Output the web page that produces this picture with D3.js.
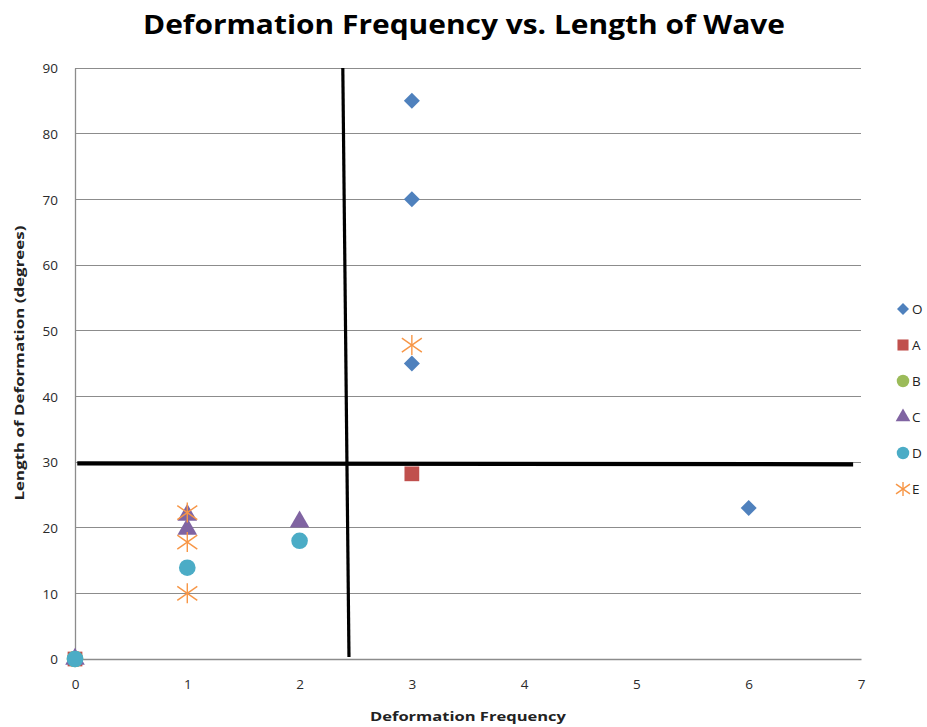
<!DOCTYPE html>
<html><head><meta charset="utf-8">
<script src="https://cdn.jsdelivr.net/npm/d3@7"></script>
<style>body{margin:0;background:#fff}svg{display:block}</style>
</head><body>
<script>
const xTicks = [0,1,2,3,4,5,6,7];
const yTicks = [0,10,20,30,40,50,60,70,80,90];
const seriesNames = ["O","A","B","C","D","E"];
const seriesColors = ["#4F81BD","#C0504D","#9BBB59","#8064A2","#4BACC6","#F79646"];
const seriesShapes = ["diamond","square","circle","triangle","circle","star"];
const O = [[0,0],[3,85],[3,70],[3,45],[6,23]];
const A = [[0,0],[3,28.2]];
const B = [[0,0]];
const C = [[0,0],[1,21.9],[1,19.8],[2,20.9]];
const D = [[0,0],[1,13.9],[2,18.0]];
const E = [[3,47.8],[1,22.3],[1,17.8],[1,10]];
const seriesData = [O,A,B,C,D,E];
const dividerV = [[2.385,90],[2.44,0.3]];
const dividerH = [[0.02,29.8],[6.93,29.65]];

const W=927,H=727;
const svg=d3.select("body").append("svg").attr("width",W).attr("height",H);
const x=d3.scaleLinear().domain([0,7]).range([75,861]);
const y=d3.scaleLinear().domain([0,90]).range([659,68]);

svg.append("g").selectAll("line").data(yTicks.filter(d=>d>0)).join("line")
  .attr("x1",x(0)).attr("x2",x(7)).attr("y1",d=>y(d)).attr("y2",d=>y(d))
  .attr("stroke","#8c8c8c").attr("stroke-width",1).attr("shape-rendering","crispEdges");

const xAxis=svg.append("g").attr("transform",`translate(0,${y(0)})`)
  .call(d3.axisBottom(x).tickValues(xTicks).tickSize(0).tickPadding(20).tickFormat(d3.format("d")));
const yAxis=svg.append("g").attr("transform",`translate(${x(0)},0)`)
  .call(d3.axisLeft(y).tickValues(yTicks).tickSize(0).tickPadding(17).tickFormat(d3.format("d")));
[xAxis,yAxis].forEach(a=>{
  a.select(".domain").attr("stroke","#8c8c8c").attr("stroke-width",1.3);
  a.selectAll("text").attr("font-family","'Open Sans',sans-serif").attr("font-size",13.5).attr("fill","#2a2a2a");
});
yAxis.selectAll("text").attr("dy","0.35em");

const line=d3.line().x(d=>x(d[0])).y(d=>y(d[1]));
svg.append("path").attr("d",line(dividerV)).attr("stroke","#000").attr("stroke-width",3.2).attr("fill","none");
svg.append("path").attr("d",line(dividerH)).attr("stroke","#000").attr("stroke-width",4.2).attr("fill","none");

function drawMarker(g,shape,color,size){
  if(shape==="star"){
    const r=size;
    const p=g.append("g").attr("stroke",color).attr("stroke-width",1.4).attr("fill","none");
    p.append("line").attr("x1",-r).attr("y1",-r*0.7).attr("x2",r).attr("y2",r*0.7);
    p.append("line").attr("x1",-r).attr("y1",r*0.7).attr("x2",r).attr("y2",-r*0.7);
    p.append("line").attr("x1",0).attr("y1",-r).attr("x2",0).attr("y2",r);
  } else if(shape==="diamond"){
    const s=size;
    g.append("path").attr("d",`M0,${-s}L${s},0L0,${s}L${-s},0Z`).attr("fill",color);
  } else {
    const types={square:d3.symbolSquare,circle:d3.symbolCircle,triangle:d3.symbolTriangle};
    const areas={square:size*size*3.4,circle:size*size*3.4,triangle:size*size*2.6};
    g.append("path").attr("d",d3.symbol().type(types[shape]).size(areas[shape])()).attr("fill",color);
  }
}

seriesData.forEach((data,i)=>{
  data.forEach(d=>{
    const g=svg.append("g").attr("transform",`translate(${x(d[0])},${y(d[1])})`);
    drawMarker(g,seriesShapes[i],seriesColors[i],i===5?10:8);
  });
});

seriesNames.forEach((n,i)=>{
  const cy=309+i*36;
  const g=svg.append("g").attr("transform",`translate(903,${cy})`);
  drawMarker(g,seriesShapes[i],seriesColors[i],i===5?7:6);
  svg.append("text").attr("x",912).attr("y",cy).attr("dy","0.35em")
    .attr("font-family","'Open Sans',sans-serif").attr("font-size",13.5).attr("fill","#222").text(n);
});

svg.append("text").attr("x",464).attr("y",34).attr("text-anchor","middle")
  .attr("font-family","'Open Sans',sans-serif").attr("font-weight","bold").attr("font-size",27)
  .attr("textLength",642).attr("lengthAdjust","spacingAndGlyphs").attr("fill","#000")
  .text("Deformation Frequency vs. Length of Wave");
svg.append("text").attr("x",468).attr("y",721).attr("text-anchor","middle")
  .attr("font-family","'Open Sans',sans-serif").attr("font-weight","bold").attr("font-size",13)
  .attr("textLength",196).attr("lengthAdjust","spacingAndGlyphs").attr("fill","#222")
  .text("Deformation Frequency");
svg.append("text").attr("transform","translate(24,363) rotate(-90)").attr("text-anchor","middle")
  .attr("font-family","'Open Sans',sans-serif").attr("font-weight","bold").attr("font-size",13)
  .attr("textLength",275).attr("lengthAdjust","spacingAndGlyphs").attr("fill","#222")
  .text("Length of Deformation (degrees)");
</script>
</body></html>
